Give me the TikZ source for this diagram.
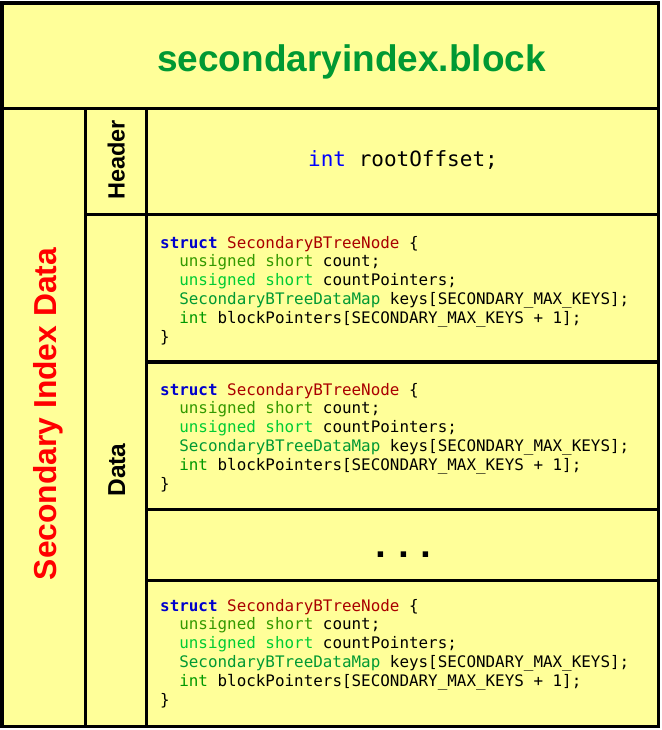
\documentclass[tikz,border=0pt]{standalone}
\usepackage{fontspec}
\setmainfont{Liberation Sans}
\setmonofont{DejaVu Sans Mono}
\newfontfamily\dotfont{Liberation Mono}
\definecolor{ylw}{HTML}{FFFF99}
\definecolor{titlegreen}{HTML}{009933}
\definecolor{kwblue}{HTML}{0000CC}
\definecolor{tyred}{HTML}{AA0000}
\definecolor{gA}{HTML}{339900}
\definecolor{gB}{HTML}{00CC33}
\definecolor{gC}{HTML}{009933}
\definecolor{gD}{HTML}{009900}
\definecolor{hdrblue}{HTML}{0000FF}
\tikzset{
  frame/.style={line width=3.5pt, draw=black},
  code/.style={inner sep=0pt, anchor=base west, font=\fontsize{15.9}{19}\selectfont\ttfamily},
  vlabel/.style={inner sep=0pt, anchor=base, rotate=90, font=\bfseries},
}
\newcommand\codeblk[2]{%
  \node[code] (#1l1) at (160,#2) {\textcolor{kwblue}{\bfseries struct} \textcolor{tyred}{SecondaryBTreeNode} \{};
  \node[code] (#1l2) at (160,{#2+18.8}) {\phantom{xx}\textcolor{gA}{unsigned short} count;};
  \node[code] (#1l3) at (160,{#2+37.6}) {\phantom{xx}\textcolor{gB}{unsigned short} countPointers;};
  \node[code] (#1l4) at (160,{#2+56.4}) {\phantom{xx}\textcolor{gC}{SecondaryBTreeDataMap} keys[SECONDARY\_MAX\_KEYS];};
  \node[code] (#1l5) at (160,{#2+75.2}) {\phantom{xx}\textcolor{gD}{int} blockPointers[SECONDARY\_MAX\_KEYS + 1];};
  \node[code] (#1l6) at (160,{#2+94}) {\}};
}
\begin{document}
\begin{tikzpicture}[x=1pt,y=-1pt]
\useasboundingbox (0,0) rectangle (661,730);
\fill[white] (0,0) rectangle (661,730);
\fill[ylw] (2,3) rectangle (658.5,726.5);
% frame lines
\draw[frame] (2,3) rectangle (658.5,726.5);
\draw[frame] (2,108.5) -- (658.5,108.5);
\draw[frame] (85.5,108.5) -- (85.5,726.5);
\draw[frame] (146.5,108.5) -- (146.5,726.5);
\draw[frame] (85.5,214.5) -- (658.5,214.5);
\draw[frame] (146.5,362) -- (658.5,362);
\draw[frame] (146.5,509.5) -- (658.5,509.5);
\draw[frame] (146.5,580.5) -- (658.5,580.5);
% texts
\node[inner sep=0pt, anchor=base, text=titlegreen, font=\fontsize{37}{40}\selectfont\bfseries] (title) at (351.5,72) {secondaryindex.block};
\node[vlabel, text=red, font=\fontsize{31.8}{34}\selectfont\bfseries] (sid) at (56.5,414) {Secondary Index Data};
\node[vlabel, font=\fontsize{23.5}{26}\selectfont\bfseries] (hdr) at (124.5,160) {Header};
\node[vlabel, font=\fontsize{24.5}{27}\selectfont\bfseries] (dat) at (125,470) {Data};
\node[inner sep=0pt, anchor=base, font=\fontsize{21}{24}\selectfont\ttfamily] (root) at (403,167) {\textcolor{hdrblue}{int} rootOffset;};
\codeblk{a}{248}
\codeblk{b}{395}
\codeblk{c}{611}
\node[inner sep=0pt, anchor=base, font=\fontsize{38}{40}\selectfont\dotfont\bfseries] (dots) at (403.5,557.5) {...};
\end{tikzpicture}
\end{document}
